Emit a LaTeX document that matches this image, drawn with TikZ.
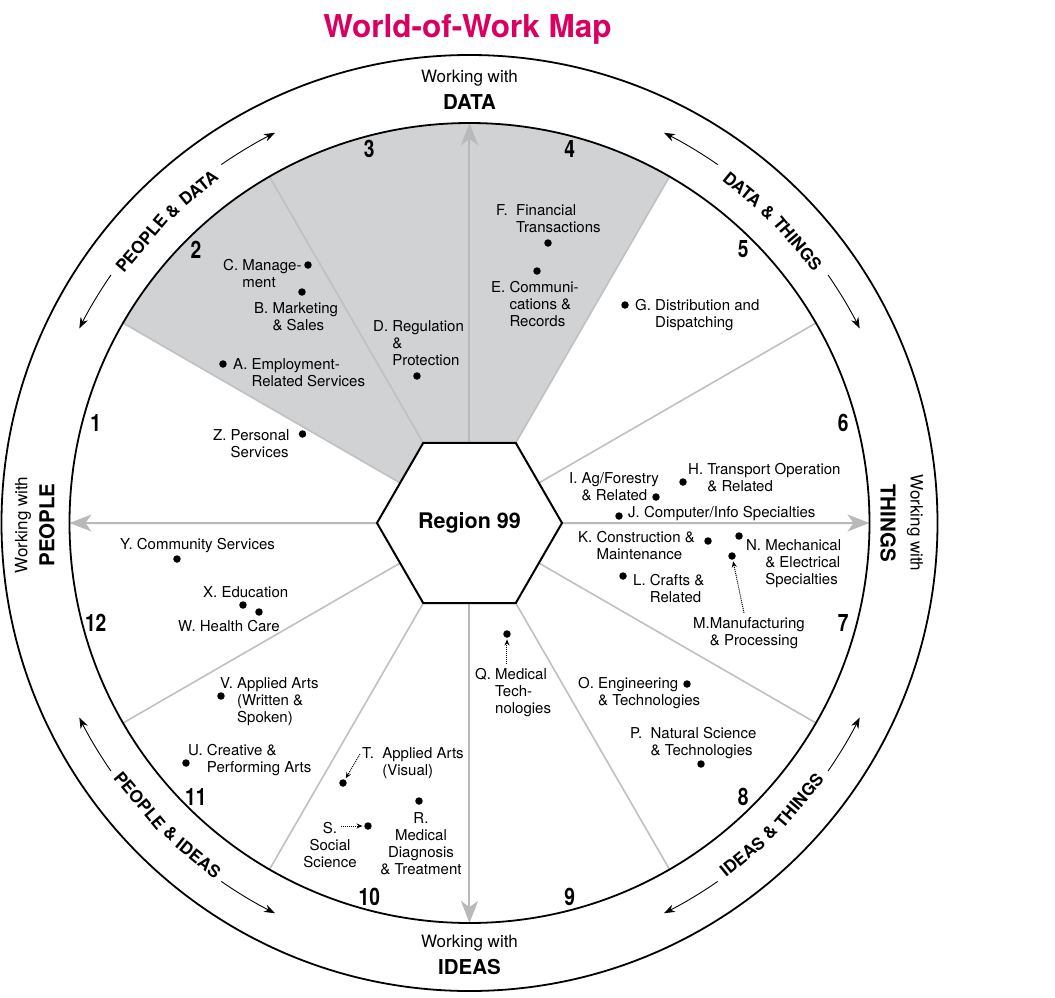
\documentclass[tikz,border=0pt]{standalone}
\usepackage{fontspec}
\setmainfont{TeX Gyre Heros}
\newfontfamily\numfont{TeX Gyre Heros}[FakeStretch=0.8]
\usetikzlibrary{shapes.geometric, arrows.meta, backgrounds, positioning}

\definecolor{wowmagenta}{RGB}{218,0,98}
\definecolor{shadegray}{RGB}{209,210,212}
\definecolor{linegray}{RGB}{192,192,192}
\definecolor{axisgray}{RGB}{185,185,185}

\tikzset{
  title/.style={font=\bfseries\fontsize{31.5}{31.5}\selectfont, text=wowmagenta},
  hexa/.style={regular polygon, regular polygon sides=6, minimum size=185pt,
    inner sep=0pt, outer sep=0pt, draw, line width=2pt, fill=white,
    font=\bfseries\fontsize{21.5}{21.5}\selectfont},
  ring/.style={line width=1.8pt},
  sepline/.style={draw=linegray, line width=1.6pt},
  axisarrow/.style={draw=axisgray, line width=2pt,
    -{Stealth[length=22pt, width=17pt, inset=6pt, fill=axisgray]}},
  ringarrow/.style={line width=0.9pt, -{Stealth[length=11pt, width=8pt]}},
  ringtext/.style={font=\bfseries\fontsize{17}{17}\selectfont, inner sep=0pt},
  working/.style={font=\fontsize{17}{17}\selectfont, inner sep=0pt},
  dimension/.style={font=\bfseries\fontsize{20.5}{20.5}\selectfont, inner sep=0pt},
  num/.style={font=\numfont\bfseries\fontsize{24}{24}\selectfont, inner sep=0pt},
  lbl/.style={anchor=north west, align=left, inner sep=0pt,
    font=\fontsize{15}{17}\selectfont},
  ctr/.style={lbl, anchor=north, align=center},
  dot/.style={circle, fill=black, inner sep=0pt, minimum size=7.5pt},
  ptr/.style={densely dotted, line width=1pt, shorten >=1.5pt,
    -{Stealth[length=6pt, width=5pt]}}
}

\begin{document}
\begin{tikzpicture}[x=1pt, y=1pt]
  \useasboundingbox (-469.5,-474) rectangle (585.5,523);

  % Title
  \node[title] (title) at (-2,494) {World-of-Work Map};

  % Centre hexagon
  \node[hexa] (r99) at (0,0) {Region 99};

  % Shaded sectors, sector lines and axes
  \begin{scope}[on background layer]
    \fill[shadegray] (r99.150) -- (150:400) arc[start angle=150, end angle=60, radius=400]
      -- (r99.60) -- (r99.120) -- cycle;
    \foreach \a in {30,60,120,150,210,240,300,330}
      \draw[sepline] (r99.\a) -- (\a:400);
    \foreach \a in {0,90,180,270}
      \draw[axisarrow] (r99.\a) -- (\a:400);
  \end{scope}

  % Rings
  \draw[ring] (0,0) circle[radius=400];
  \draw[ring] (0,0) circle[radius=468];

  % Working with ...
  \node[working] (wdata) at (0,445) {Working with};
  \node[dimension] (data) at (0,421) {DATA};
  \node[working] (wideas) at (0,-420) {Working with};
  \node[dimension] (ideas) at (0,-444) {IDEAS};
  \node[working, rotate=90] (wpeople) at (-446.5,-2) {Working with};
  \node[dimension, rotate=90] (people) at (-422.5,-2) {PEOPLE};
  \node[working, rotate=-90] (wthings) at (445.5,0) {Working with};
  \node[dimension, rotate=-90] (things) at (418.5,0) {THINGS};

  % Ring texts, word by word along the band
  \foreach \w/\a [count=\i] in {PEOPLE/139.58, \&/133.55, DATA/128.97,
      DATA/50.71, \&/46.13, THINGS/40.42}
    \node[ringtext, rotate=\a-90] (rt\i) at (\a:431) {\w};
  \foreach \w/\a [count=\i from 7] in {PEOPLE/220.1, \&/226.13, IDEAS/231.03,
      IDEAS/309.29, \&/314.19, THINGS/319.9}
    \node[ringtext, rotate=\a+90] (rt\i) at (\a:431) {\w};
  \foreach \c in {45,135,225,315} {
    \draw[ringarrow] ({\c+10.3}:436) arc[start angle=\c+10.3, end angle=\c+18.5, radius=436];
    \draw[ringarrow] ({\c-10.3}:436) arc[start angle=\c-10.3, end angle=\c-18.5, radius=436];
  }

  % Region numbers
  \foreach \k in {1,...,12}
    \node[num] (n\k) at ({195-30*\k}:387) {\k};

  % Career areas
  \node[lbl] (C) at (-246.5,263.7) {C. Manage-\\\hphantom{C.\ }ment};
  \node[lbl] (B) at (-215.5,220.7) {B. Marketing\\\hphantom{B.\ }\& Sales};
  \node[lbl] (D) at (-96.5,202.7) {D. Regulation\\\hphantom{D.\ }\&\\\hphantom{D.\ }Protection};
  \node[lbl] (A) at (-236.5,164.7) {A. Employment-\\\hphantom{A.\ }Related Services};
  \node[lbl] (Z) at (-256.5,93.7) {Z. Personal\\\hphantom{Z.\ }Services};
  \node[lbl] (F) at (26.5,318.7) {F.\ \ Financial\\\hphantom{F.\ \ }Transactions};
  \node[lbl] (E) at (21.5,241.7) {E. Communi-\\\hphantom{E.\ }cations \&\\\hphantom{E.\ }Records};
  \node[lbl] (G) at (165.5,223.7) {G. Distribution and\\\hphantom{G.\ }Dispatching};
  \node[lbl] (I) at (99.5,50.7) {I. Ag/Forestry\\\hphantom{I.\ }\& Related};
  \node[lbl] (H) at (218.5,59.7) {H. Transport Operation\\\hphantom{H.\ }\& Related};
  \node[lbl] (J) at (158.5,16.7) {J. Computer/Info Specialties};
  \node[lbl] (K) at (108.5,-8.3) {K. Construction \&\\\hphantom{K.\ }Maintenance};
  \node[lbl] (N) at (276.5,-16.3) {N. Mechanical\\\hphantom{N.\ }\& Electrical\\\hphantom{N.\ }Specialties};
  \node[lbl] (L) at (163.5,-51.3) {L. Crafts \&\\\hphantom{L.\ }Related};
  \node[lbl] (M) at (223.5,-94.3) {M.Manufacturing\\\hphantom{M.}\& Processing};
  \node[lbl] (Q) at (5.5,-145.3) {Q. Medical\\\hphantom{Q.\ }Tech-\\\hphantom{Q.\ }nologies};
  \node[lbl] (O) at (108.5,-154.3) {O. Engineering\\\hphantom{O.\ }\& Technologies};
  \node[lbl] (P) at (160.5,-204.3) {P.\ \ Natural Science\\\hphantom{P.\ \ }\& Technologies};
  \node[lbl] (Y) at (-349.5,-15.3) {Y. Community Services};
  \node[lbl] (X) at (-266.5,-63.3) {X. Education};
  \node[lbl] (W) at (-291.5,-97.3) {W. Health Care};
  \node[lbl] (V) at (-249.5,-154.3) {V. Applied Arts\\\hphantom{V.\ }(Written \&\\\hphantom{V.\ }Spoken)};
  \node[lbl] (U) at (-281.5,-221.3) {U. Creative \&\\\hphantom{U.\ }Performing Arts};
  \node[lbl] (T) at (-107.5,-224.3) {T.\ \ Applied Arts\\\hphantom{T.\ \ }(Visual)};
  \node[ctr] (R) at (-48.5,-289.3) {R.\\Medical\\Diagnosis\\\& Treatment};
  \node[ctr] (S) at (-139.5,-299.3) {S.\\Social\\Science};

  % Dots
  \foreach \n/\px/\py in {a/-246.5/159, b/-167.5/231, c/-161.5/258, d/-52.5/147,
      e/67.5/252, f/78.5/280, g/155.5/218, h/213.5/41, i/186.5/26, j/149.5/7,
      k/238.5/-18, l/153.5/-53, m/262.5/-33, n/269.5/-13, o/217.5/-161,
      p/231.5/-241, q/37.5/-111, r/-50.5/-278, s/-101.5/-303, t/-126.5/-260,
      u/-283.5/-240, v/-248.5/-173, w/-210.5/-89, x/-226.5/-82, y/-292.5/-36,
      z/-167/89}
    \node[dot] (\n) at (\px,\py) {};

  % Pointers
  \coordinate (mT) at (274.5,-90);
  \coordinate (qT) at (37.5,-141);
  \coordinate (tT) at (-109.5,-231);
  \coordinate (sT) at (-128.5,-303);
  \draw[ptr] (mT) -- (m);
  \draw[ptr] (qT) -- (q);
  \draw[ptr] (tT) -- (t);
  \draw[ptr] (sT) -- (s);
\end{tikzpicture}
\end{document}
